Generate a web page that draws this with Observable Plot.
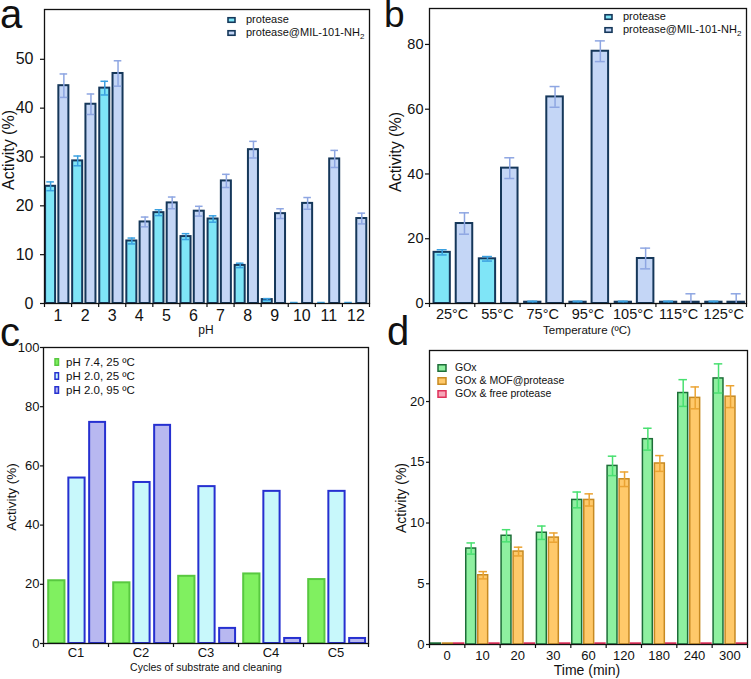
<!DOCTYPE html>
<html><head><meta charset="utf-8">
<script src="https://cdn.jsdelivr.net/npm/d3@7"></script>
<script src="https://cdn.jsdelivr.net/npm/@observablehq/plot@0.6"></script>
<style>
html,body{margin:0;padding:0;background:#fff;}
#root{position:relative;width:751px;height:679px;overflow:hidden;background:#fff;font-family:"Liberation Sans",Arial,sans-serif;}
#root svg{position:absolute;}
</style></head><body><div id="root"></div>
<script>
// ---------- Panel a : pH ----------
const phLabels = ["1","2","3","4","5","6","7","8","9","10","11","12"];
const aProtease    = [24.0, 29.2, 44.1, 12.8, 18.6, 13.7, 17.3, 7.8, 0.8, 0, 0, 0];
const aProteaseErr = [0.9, 1.0, 1.4, 0.6, 0.6, 0.6, 0.65, 0.45, 0.2, 0.2, 0.2, 0.2];
const aMIL         = [44.6, 40.8, 47.1, 16.7, 20.6, 18.9, 25.1, 31.5, 18.4, 20.5, 29.6, 17.4];
const aMILErr      = [2.4, 2.1, 2.6, 1.0, 1.2, 1.0, 1.35, 1.7, 1.0, 1.2, 1.75, 1.1];
const aTicks = [0, 10, 20, 30, 40, 50];

// ---------- Panel b : temperature ----------
const tempLabels = ["25°C","55°C","75°C","95°C","105°C","115°C","125°C"];
const bProtease    = [15.8, 13.8, 0.4, 0.4, 0.4, 0.4, 0.4];
const bProteaseErr = [0.8, 0.7, 0.3, 0.3, 0.3, 0.3, 0.3];
const bMIL         = [24.7, 41.8, 63.8, 77.9, 13.9, 0.4, 0.4];
const bMILErr      = [3.3, 3.2, 3.2, 3.2, 3.2, 2.6, 2.6];
const bTicks = [0, 20, 40, 60, 80];

// ---------- Panel c : cycles ----------
const cycleLabels = ["C1","C2","C3","C4","C5"];
const cPH74_25 = [21.2, 20.5, 22.7, 23.5, 21.6];
const cPH20_25 = [55.9, 54.4, 53.0, 51.4, 51.4];
const cPH20_95 = [74.7, 73.7, 5.1, 1.7, 1.7];
const cTicks = [0, 20, 40, 60, 80, 100];

// ---------- Panel d : time ----------
const timeLabels = ["0","10","20","30","60","120","180","240","300"];
const dGOx       = [0.08, 7.9, 8.95, 9.2, 11.9, 14.7, 16.9, 20.7, 21.9];
const dGOxErr    = [0, 0.46, 0.5, 0.55, 0.65, 0.8, 0.9, 1.1, 1.2];
const dMOF       = [0.08, 5.7, 7.65, 8.8, 11.9, 13.6, 14.9, 20.3, 20.4];
const dMOFErr    = [0, 0.3, 0.36, 0.38, 0.5, 0.6, 0.65, 0.9, 0.9];
const dFree      = [0.08, 0.08, 0.08, 0.08, 0.08, 0.08, 0.08, 0.08, 0.08];
const dTicks = [0, 5, 10, 15, 20];

const root = document.getElementById("root");
const FONT = "Liberation Sans, Arial, sans-serif";

function groupedPanel(cfg) {
  const n = cfg.labels.length;
  const marks = [];
  const rowsOf = s => s.values.map((v, i) => ({i, v, e: s.errors ? s.errors[i] : 0}));
  for (const s of cfg.series) {
    marks.push(Plot.rect(rowsOf(s), {
      x1: d => d.i + s.span[0], x2: d => d.i + s.span[1],
      y1: d => 0, y2: d => d.v,
      fill: s.fill, stroke: s.stroke, strokeWidth: s.sw
    }));
  }
  for (const s of cfg.series) {
    if (!s.errors) continue;
    const rows = rowsOf(s).filter(d => d.e > 0);
    const c = d => d.i + (s.span[0] + s.span[1]) / 2;
    marks.push(Plot.ruleX(rows, {x: c, y1: d => Math.max(0, d.v - d.e), y2: d => d.v + d.e, stroke: s.errColor, strokeWidth: 1.5}));
    marks.push(Plot.ruleY(rows, {y: d => d.v + d.e, x1: d => c(d) - cfg.cap, x2: d => c(d) + cfg.cap, stroke: s.errColor, strokeWidth: 1.5}));
    marks.push(Plot.ruleY(rows.filter(d => d.v - d.e > 0), {y: d => d.v - d.e, x1: d => c(d) - cfg.cap, x2: d => c(d) + cfg.cap, stroke: s.errColor, strokeWidth: 1.5}));
  }
  marks.push(Plot.axisY({ticks: cfg.yTicks, tickSize: cfg.yTickSize, tickPadding: cfg.yTickPad, fontSize: cfg.yFont, label: null, strokeWidth: 1.2}));
  marks.push(Plot.axisX({ticks: d3.range(n).map(i => i + 0.5), tickFormat: t => cfg.labels[Math.floor(t)], tickSize: 0, tickPadding: cfg.xTickPad, fontSize: cfg.xFont, label: null}));
  marks.push(Plot.axisX({ticks: d3.range(n + 1), tickFormat: () => "", tickSize: 4, label: null, strokeWidth: 1.2}));
  marks.push(Plot.frame({stroke: "#111", strokeWidth: 1.3}));
  const svg = Plot.plot({
    width: cfg.width, height: cfg.height,
    marginLeft: cfg.m[0], marginRight: cfg.m[1], marginTop: cfg.m[2], marginBottom: cfg.m[3],
    x: {domain: [0, n]},
    y: {domain: [0, cfg.yMax]},
    style: {fontFamily: FONT, color: "#111", background: "transparent", overflow: "visible"},
    marks
  });
  svg.style.left = cfg.left + "px";
  svg.style.top = cfg.top + "px";
  root.appendChild(svg);
}

const navy = "#15375a";
groupedPanel({
  labels: phLabels, left: 0, top: 0, width: 375, height: 330, m: [44, 6, 9, 27],
  yMax: 60.2, yTicks: aTicks, yTickSize: 4, yTickPad: 7, xTickPad: 6, yFont: 16, xFont: 16, cap: 0.14,
  series: [
    {values: aProtease, errors: aProteaseErr, span: [0.04, 0.41], fill: "#7fe5f7", stroke: navy, sw: 2, errColor: "#3aa0e0"},
    {values: aMIL, errors: aMILErr, span: [0.53, 0.90], fill: "#c4d6f6", stroke: navy, sw: 2, errColor: "#8ea6e2"}
  ]
});
groupedPanel({
  labels: tempLabels, left: 375, top: 0, width: 376, height: 330, m: [54, 5, 8, 27],
  yMax: 91.1, yTicks: bTicks, yTickSize: 4, yTickPad: 2, xTickPad: 5, yFont: 14.5, xFont: 14.5, cap: 0.11,
  series: [
    {values: bProtease, errors: bProteaseErr, span: [0.10, 0.46], fill: "#7fe5f7", stroke: navy, sw: 2, errColor: "#3aa0e0"},
    {values: bMIL, errors: bMILErr, span: [0.59, 0.955], fill: "#c4d6f6", stroke: navy, sw: 2, errColor: "#8ea6e2"}
  ]
});
groupedPanel({
  labels: cycleLabels, left: 0, top: 330, width: 375, height: 349, m: [43, 7, 17, 36],
  yMax: 100, yTicks: cTicks, yTickSize: 3, yTickPad: 1, xTickPad: 4, yFont: 13, xFont: 13, cap: 0,
  series: [
    {values: cPH74_25, span: [0.08, 0.33], fill: "#80f060", stroke: "#58c840", sw: 2},
    {values: cPH20_25, span: [0.39, 0.64], fill: "#c8f8fb", stroke: "#2630d0", sw: 2},
    {values: cPH20_95, span: [0.71, 0.955], fill: "#b8b8f0", stroke: "#2630d0", sw: 2}
  ]
});
groupedPanel({
  labels: timeLabels, left: 375, top: 330, width: 376, height: 349, m: [54, 4, 20, 35],
  yMax: 24.2, yTicks: dTicks, yTickSize: 3, yTickPad: 2, xTickPad: 6, yFont: 13, xFont: 13, cap: 0.12,
  series: [
    {values: dGOx, errors: dGOxErr, span: [0.04, 0.32], fill: "#8ef0a0", stroke: "#1d6e38", sw: 1.5, errColor: "#48e070"},
    {values: dMOF, errors: dMOFErr, span: [0.38, 0.66], fill: "#ffc96a", stroke: "#c78a22", sw: 1.5, errColor: "#eba332"},
    {values: dFree, span: [0.70, 0.98], fill: "#f6a6b8", stroke: "#e0305a", sw: 1.5}
  ]
});

// ---------- overlay: letters, titles, legends ----------
const ov = d3.create("svg").attr("width", 751).attr("height", 679)
  .style("left", "0px").style("top", "0px").style("pointer-events", "none")
  .attr("font-family", FONT).attr("fill", "#111");
function txt(x, y, s, size, opts = {}) {
  const t = ov.append("text").attr("x", x).attr("y", y).attr("font-size", size)
    .attr("dominant-baseline", opts.baseline || "middle")
    .attr("text-anchor", opts.anchor || "start").text(s);
  if (opts.rotate) t.attr("transform", `rotate(-90 ${x} ${y})`);
  return t;
}
// panel letters
txt(0, 28, "a", 40, {baseline: "alphabetic"});
txt(384, 27, "b", 37, {baseline: "alphabetic"});
txt(0, 346, "c", 40, {baseline: "alphabetic"});
txt(387, 345, "d", 40, {baseline: "alphabetic"});
// axis titles
txt(10, 150, "Activity (%)", 16, {anchor: "middle", rotate: true});
txt(206, 331, "pH", 12, {anchor: "middle"});
txt(397, 152, "Activity (%)", 16, {anchor: "middle", rotate: true});
txt(587, 331, "Temperature (ºC)", 11.5, {anchor: "middle"});
txt(12, 497, "Activity (%)", 13.5, {anchor: "middle", rotate: true});
txt(206, 668, "Cycles of substrate and cleaning", 10.5, {anchor: "middle"});
txt(402, 498, "Activity (%)", 14, {anchor: "middle", rotate: true});
txt(587, 671, "Time (min)", 14, {anchor: "middle"});

function legendItem(x, y, w, h, fill, stroke, sw, tx, label, size) {
  ov.append("rect").attr("x", x).attr("y", y - h / 2).attr("width", w).attr("height", h)
    .attr("fill", fill).attr("stroke", stroke).attr("stroke-width", sw);
  return txt(tx, y + 0.5, label, size);
}
const legendA = ["protease", "protease@MIL-101-NH"];
// panel a legend
legendItem(228, 20, 7, 4.5, "#7fe5f7", navy, 1.6, 246, legendA[0], 11);
legendItem(228, 33, 7, 4.5, "#c4d6f6", navy, 1.6, 246, legendA[1], 11)
  .append("tspan").attr("font-size", 8).attr("dy", 3).text("2");
// panel b legend
legendItem(605, 17, 7, 4.5, "#7fe5f7", navy, 1.6, 623, legendA[0], 11);
legendItem(605, 30, 7, 4.5, "#c4d6f6", navy, 1.6, 623, legendA[1], 11)
  .append("tspan").attr("font-size", 8).attr("dy", 3).text("2");
// panel c legend
const legendC = ["pH 7.4, 25 ºC", "pH 2.0, 25 ºC", "pH 2.0, 95 ºC"];
legendItem(55, 362, 3.5, 6.5, "#80f060", "#58c840", 1.5, 66, legendC[0], 11.5);
legendItem(55, 376, 3.5, 6.5, "#c8f8fb", "#2630d0", 1.5, 66, legendC[1], 11.5);
legendItem(55, 390, 3.5, 6.5, "#b8b8f0", "#2630d0", 1.5, 66, legendC[2], 11.5);
// panel d legend
const legendD = ["GOx", "GOx & MOF@protease", "GOx & free protease"];
legendItem(438, 368, 8, 6.5, "#8ef0a0", "#1d6e38", 1.5, 455, legendD[0], 10.5);
legendItem(438, 381, 8, 6.5, "#ffc96a", "#c78a22", 1.5, 455, legendD[1], 10.5);
legendItem(438, 394, 8, 6.5, "#f6a6b8", "#e0305a", 1.5, 455, legendD[2], 10.5);

root.appendChild(ov.node());
</script></body></html>
